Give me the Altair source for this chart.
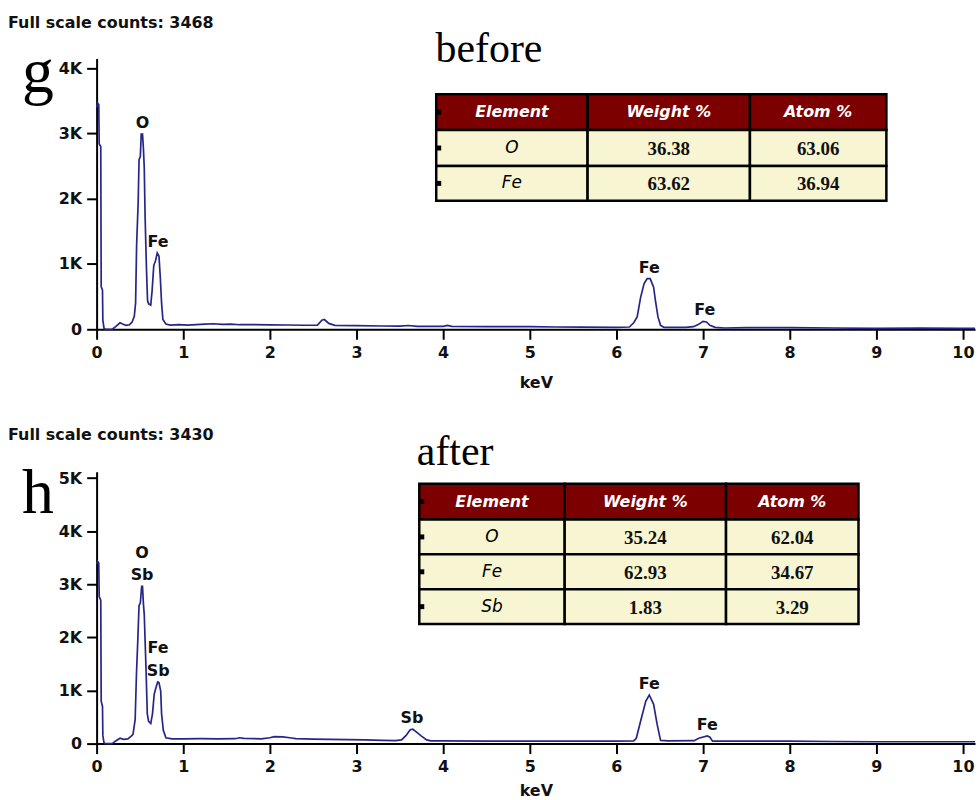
import altair as alt
import pandas as pd

# ---------------- spectrum "g" (before) ----------------
g_kev = [0.00, 0.012, 0.025, 0.03, 0.048, 0.053, 0.068, 0.072, 0.085, 0.10, 0.18, 0.22, 0.27, 0.30,
         0.34, 0.38, 0.41, 0.435, 0.45, 0.462, 0.48, 0.49, 0.505, 0.515, 0.53, 0.54, 0.55, 0.56,
         0.575, 0.588, 0.60, 0.625, 0.64, 0.66, 0.68, 0.70, 0.72, 0.735, 0.75, 0.765, 0.80, 0.85,
         0.95, 1.05, 1.15, 1.25, 1.35, 1.45, 1.55, 1.65, 1.80, 2.00, 2.20, 2.40, 2.55, 2.60, 2.63,
         2.68, 2.75, 3.00, 3.30, 3.50, 3.60, 3.70, 4.00, 4.05, 4.10, 4.50, 5.00, 5.30, 5.60, 6.00,
         6.15, 6.20, 6.24, 6.28, 6.32, 6.355, 6.39, 6.43, 6.45, 6.48, 6.51, 6.55, 6.80, 6.89, 6.95,
         7.00, 7.04, 7.08, 7.14, 7.25, 7.50, 8.00, 8.50, 9.00, 9.50, 10.00, 10.14]
g_cnt = [3400, 3468, 3440, 2840, 2800, 650, 600, 140, 20, 0, 0, 40, 100, 80,
         60, 70, 110, 200, 400, 1300, 1950, 2600, 2650, 2990, 2990, 2780, 2480, 1720,
         950, 440, 390, 370, 580, 980, 1050, 1170, 1120, 800, 400, 150, 80, 65,
         70, 65, 72, 80, 85, 75, 80, 70, 72, 68, 66, 62, 65, 140, 150,
         90, 60, 55, 50, 48, 58, 45, 45, 60, 45, 42, 40, 35, 33, 30,
         35, 100, 190, 490, 700, 775, 775, 645, 445, 190, 60, 30, 30, 40, 76,
         122, 112, 60, 30, 20, 25, 25, 20, 15, 18, 15, 15]

# ---------------- spectrum "h" (after) ----------------
h_kev = [0.00, 0.012, 0.025, 0.03, 0.048, 0.053, 0.068, 0.072, 0.085, 0.10, 0.18, 0.22, 0.27, 0.31,
         0.36, 0.40, 0.42, 0.445, 0.46, 0.475, 0.49, 0.505, 0.52, 0.53, 0.54, 0.55, 0.57, 0.585,
         0.60, 0.625, 0.645, 0.665, 0.685, 0.705, 0.72, 0.74, 0.75, 0.77, 0.80, 0.87, 1.00, 1.20,
         1.40, 1.60, 1.65, 1.70, 1.90, 2.00, 2.05, 2.15, 2.25, 2.30, 2.50, 2.70, 2.90, 3.10, 3.30,
         3.45, 3.52, 3.57, 3.62, 3.65, 3.69, 3.75, 3.81, 3.86, 4.00, 4.50, 5.00, 5.50, 6.00, 6.20,
         6.23, 6.28, 6.34, 6.38, 6.43, 6.47, 6.51, 6.60, 6.90, 6.95, 7.05, 7.08, 7.11, 7.30, 7.70,
         8.00, 8.50, 9.00, 9.50, 10.00, 10.14]
h_cnt = [3380, 3430, 3400, 2770, 2700, 800, 700, 150, 20, 0, 0, 50, 100, 80,
         90, 140, 175, 450, 1300, 1930, 2600, 2650, 2960, 2960, 2640, 2430, 1430, 560,
         420, 380, 560, 930, 1050, 1160, 1150, 990, 560, 250, 110, 90, 90, 92,
         90, 92, 110, 100, 90, 110, 130, 125, 105, 95, 85, 80, 75, 70, 60,
         55, 70, 150, 260, 270, 220, 140, 70, 50, 50, 48, 45, 45, 45, 50,
         100, 425, 800, 915, 740, 365, 60, 50, 55, 100, 145, 120, 45, 45, 45,
         45, 40, 35, 35, 35, 35]

# ---------------- peak identifications (tier 1 = second line above) ----------------
g_peak_kev = [0.53, 0.71, 6.38, 7.02]
g_peak_cnt = [2990, 1170, 775, 122]
g_peak_lbl = ["O", "Fe", "Fe", "Fe"]
g_peak_tier = [0, 0, 0, 0]

h_peak_kev = [0.525, 0.525, 0.71, 0.71, 3.64, 6.38, 7.05]
h_peak_cnt = [2960, 2960, 1160, 1160, 270, 915, 145]
h_peak_lbl = ["Sb", "O", "Sb", "Fe", "Sb", "Fe", "Fe"]
h_peak_tier = [0, 1, 0, 1, 0, 0, 0]

# ---------------- quantification tables ----------------
table_header = ["Element", "Weight %", "Atom %"]
g_elements = ["O", "Fe"]
g_weight = [36.38, 63.62]
g_atom = [63.06, 36.94]
h_elements = ["O", "Fe", "Sb"]
h_weight = [35.24, 62.93, 1.83]
h_atom = [62.04, 34.67, 3.29]

x_ticks = list(range(11))

# ---------------- styling ----------------
PLOT_W = 882
X_MAX = 10.14
LINE_COLOR = "#262688"
HEAD_FILL = "#7d0000"
BODY_FILL = "#f8f6d2"
SANS = "DejaVu Sans"
SERIF = "Liberation Serif"


def panel(kev, cnt, pk_kev, pk_cnt, pk_lbl, pk_tier, y_max, y_ticks, height, title_pad,
          elements, weight, atom, tab_left, tab_top, col_w, row_h,
          letter, letter_y, cond, cond_x, cond_y, full_scale, fs_y):
    # spectrum and peak labels share keV / counts scales
    x_enc = alt.X("keV:Q",
                  scale=alt.Scale(domain=[0, X_MAX], nice=False, zero=False),
                  axis=alt.Axis(values=x_ticks, title="keV", grid=False, titlePadding=title_pad))
    y_enc = alt.Y("counts:Q",
                  scale=alt.Scale(domain=[0, y_max], nice=False, zero=False),
                  axis=alt.Axis(values=y_ticks, title=None, grid=False,
                                labelExpr="datum.value == 0 ? '0' : (datum.value / 1000) + 'K'"))

    spec = pd.DataFrame({"keV": kev, "counts": cnt})
    line = alt.Chart(spec).mark_line(color=LINE_COLOR, strokeWidth=1.7).encode(x=x_enc, y=y_enc)

    peaks = pd.DataFrame({"keV": pk_kev, "counts": pk_cnt, "label": pk_lbl, "tier": pk_tier})
    label_style = dict(font=SANS, fontWeight="bold", fontSize=16, color="#111111",
                       baseline="bottom", align="center")
    near = alt.Chart(peaks).transform_filter("datum.tier == 0").mark_text(
        dy=-3, **label_style).encode(x=x_enc, y=y_enc, text="label:N")
    far = alt.Chart(peaks).transform_filter("datum.tier == 1").mark_text(
        dy=-26, **label_style).encode(x=x_enc, y=y_enc, text="label:N")

    spectrum = alt.layer(line, near, far)

    # table laid out in plot-pixel units
    cells, heads, elems, nums, marks = [], [], [], [], []
    y = tab_top
    for r, h in enumerate(row_h):
        x = tab_left
        for c, w in enumerate(col_w):
            cell = dict(x0=x, x1=x + w, y0=y, y1=y + h,
                        xc=x + w / 2, yc=y + h / 2,
                        kind="head" if r == 0 else "body")
            cells.append(cell)
            if r == 0:
                heads.append(dict(xc=cell["xc"], yc=cell["yc"], t=table_header[c]))
            elif c == 0:
                elems.append(dict(xc=cell["xc"], yc=cell["yc"], t=elements[r - 1]))
            else:
                v = weight[r - 1] if c == 1 else atom[r - 1]
                nums.append(dict(xc=cell["xc"], yc=cell["yc"], v=v))
            x += w
        marks.append(dict(x0=tab_left, x1=tab_left + 5, y0=y + h / 2 - 2.5, y1=y + h / 2 + 2.5))
        y += h

    tsx = alt.Scale(domain=[0, PLOT_W], nice=False, zero=False)
    tsy = alt.Scale(domain=[0, height], nice=False, zero=False, reverse=True)

    rects = alt.Chart(pd.DataFrame(cells)).mark_rect(stroke="black", strokeWidth=2.5).encode(
        x=alt.X("x0:Q", scale=tsx, axis=None), x2="x1:Q",
        y=alt.Y("y0:Q", scale=tsy, axis=None), y2="y1:Q",
        color=alt.Color("kind:N", scale=alt.Scale(domain=["head", "body"],
                                                   range=[HEAD_FILL, BODY_FILL]), legend=None),
    )
    tabs = alt.Chart(pd.DataFrame(marks)).mark_rect(color="black").encode(
        x=alt.X("x0:Q", scale=tsx, axis=None), x2="x1:Q",
        y=alt.Y("y0:Q", scale=tsy, axis=None), y2="y1:Q",
    )
    head_text = alt.Chart(pd.DataFrame(heads)).mark_text(
        font=SANS, fontWeight="bold", fontStyle="italic", fontSize=16, color="white",
        baseline="middle", align="center"
    ).encode(x=alt.X("xc:Q", scale=tsx, axis=None), y=alt.Y("yc:Q", scale=tsy, axis=None), text="t:N")
    elem_text = alt.Chart(pd.DataFrame(elems)).mark_text(
        font=SANS, fontStyle="italic", fontSize=17, color="black",
        baseline="middle", align="center"
    ).encode(x=alt.X("xc:Q", scale=tsx, axis=None), y=alt.Y("yc:Q", scale=tsy, axis=None), text="t:N")
    num_text = alt.Chart(pd.DataFrame(nums)).mark_text(
        font=SERIF, fontWeight="bold", fontSize=19, color="#111111",
        baseline="middle", align="center", dy=1
    ).encode(x=alt.X("xc:Q", scale=tsx, axis=None), y=alt.Y("yc:Q", scale=tsy, axis=None),
             text=alt.Text("v:Q", format=".2f"))

    table = alt.layer(rects, tabs, head_text, elem_text, num_text)

    # panel annotations
    one = pd.DataFrame({"a": [0]})
    counts_txt = alt.Chart(one).mark_text(
        font=SANS, fontWeight="bold", fontSize=16, color="#111111", align="left", baseline="middle"
    ).encode(x=alt.value(-89), y=alt.value(fs_y),
             text=alt.value(f"Full scale counts: {full_scale}"))
    letter_txt = alt.Chart(one).mark_text(
        font=SERIF, fontSize=64, color="black", align="center", baseline="alphabetic"
    ).encode(x=alt.value(-59), y=alt.value(letter_y), text=alt.value(letter))
    cond_txt = alt.Chart(one).mark_text(
        font=SERIF, fontSize=42, color="black", align="center", baseline="alphabetic"
    ).encode(x=alt.value(cond_x), y=alt.value(cond_y), text=alt.value(cond))

    return alt.layer(spectrum, table, counts_txt, letter_txt, cond_txt).resolve_scale(
        x="independent", y="independent"
    ).properties(width=PLOT_W, height=height)


top = panel(g_kev, g_cnt, g_peak_kev, g_peak_cnt, g_peak_lbl, g_peak_tier,
            4150, [0, 1000, 2000, 3000, 4000], 272, 14,
            g_elements, g_weight, g_atom, 341, 36, [152, 163, 137], [36, 36, 35],
            "g", 34, "before", 394, 4, 3468, -36)
bottom = panel(h_kev, h_cnt, h_peak_kev, h_peak_cnt, h_peak_lbl, h_peak_tier,
               5120, [0, 1000, 2000, 3000, 4000, 5000], 273, 8,
               h_elements, h_weight, h_atom, 324, 12, [146, 162, 133], [36, 35, 35, 35],
               "h", 41, "after", 360, -7, 3430, -37)

chart = alt.vconcat(top, bottom, spacing=37).properties(
    padding={"left": 8, "top": 13, "right": 0, "bottom": 0}
).configure_view(stroke=None).configure_axis(
    domainColor="black", domainWidth=2, tickColor="black", tickWidth=2, tickSize=10,
    labelFont=SANS, labelFontWeight="bold", labelFontSize=16, labelColor="#111111", labelPadding=5,
    titleFont=SANS, titleFontWeight="bold", titleFontSize=16, titleColor="#111111",
).configure_axisX(labelFlush=False)

chart.save("out.html", embed_options={"renderer": "svg", "actions": False})
